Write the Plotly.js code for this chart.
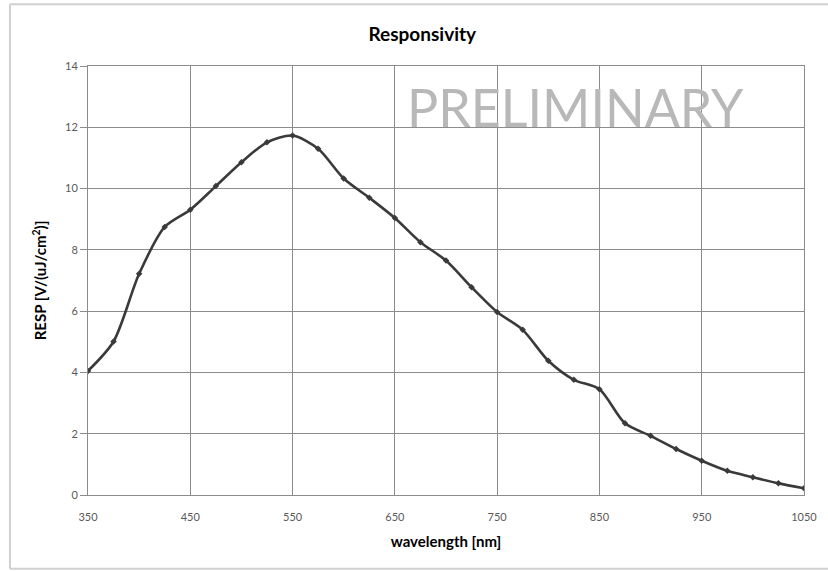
<!DOCTYPE html>
<html>
<head>
<meta charset="utf-8">
<script src="https://cdn.plot.ly/plotly-3.0.1.min.js"></script>
<style>html,body{margin:0;padding:0;background:#fff;overflow:hidden;}#chart{width:828px;height:571px;}</style>
</head>
<body>
<div id="chart"></div>
<script>
const wavelength = [350,375,400,425,450,475,500,525,550,575,600,625,650,675,700,725,750,775,800,825,850,875,900,925,950,975,1000,1025,1050];
const responsivity = [4.05,5.01,7.22,8.75,9.31,10.08,10.86,11.51,11.73,11.30,10.33,9.70,9.04,8.25,7.65,6.78,5.97,5.39,4.38,3.76,3.45,2.34,1.93,1.50,1.12,0.79,0.58,0.38,0.22];
const xTicks = [350,450,550,650,750,850,950,1050];
const yTicks = [0,2,4,6,8,10,12,14];

const font = "Lato, 'Open Sans', 'Liberation Sans', sans-serif";

const trace = {
  x: wavelength, y: responsivity, type: 'scatter', mode: 'lines+markers',
  line: {color: '#3a3a3a', width: 2.6, shape: 'spline', smoothing: 0.8},
  marker: {symbol: 'diamond', size: 5, color: '#3a3a3a'},
  hoverinfo: 'skip', showlegend: false
};

const frame = {color: '#d0d0d0', width: 2};
const layout = {
  width: 828, height: 571,
  margin: {l: 88, r: 24, t: 66, b: 76},
  paper_bgcolor: '#fff', plot_bgcolor: '#fff',
  title: {text: '<b>Responsivity</b>', x: 0.51, xref: 'container', y: 0.94, yanchor: 'middle',
          font: {family: font, size: 19, color: '#000'}},
  xaxis: {
    range: [350, 1050], tickvals: xTicks, ticktext: xTicks.map(String),
    showgrid: true, gridcolor: '#8c8c8c', gridwidth: 1,
    showline: true, linecolor: '#8c8c8c', linewidth: 1, mirror: true,
    ticks: 'outside', ticklen: 12, tickcolor: '#fff',
    tickfont: {family: font, size: 11, color: '#595959'},
    zeroline: false, fixedrange: true,
    title: {text: '<b>wavelength [nm]</b>', standoff: 14, font: {family: font, size: 15, color: '#000'}}
  },
  yaxis: {
    range: [0, 14], tickvals: yTicks, ticktext: yTicks.map(String),
    showgrid: true, gridcolor: '#8c8c8c', gridwidth: 1,
    showline: true, linecolor: '#8c8c8c', linewidth: 1, mirror: true,
    ticks: 'outside', ticklen: 7, tickcolor: '#8c8c8c',
    tickfont: {family: font, size: 11, color: '#595959'},
    zeroline: false, fixedrange: true,
    title: {text: '<b>RESP [V/(uJ/cm<sup>2</sup>)]</b>', standoff: 14, font: {family: font, size: 15, color: '#000'}}
  },
  annotations: [{
    text: 'PRELIMINARY', xref: 'paper', yref: 'paper', x: 0.681, y: 0.905,
    xanchor: 'center', yanchor: 'middle', showarrow: false,
    font: {family: font, size: 52, color: '#b8b8b8'}
  }],
  shapes: [
    {type: 'line', xref: 'paper', yref: 'paper', x0: -0.109, x1: -0.109, y0: -0.172, y1: 1.144, line: frame, layer: 'below'},
    {type: 'line', xref: 'paper', yref: 'paper', x0: -0.109, x1: 1.1, y0: 1.144, y1: 1.144, line: frame, layer: 'below'},
    {type: 'line', xref: 'paper', yref: 'paper', x0: -0.109, x1: 1.1, y0: -0.172, y1: -0.172, line: frame, layer: 'below'}
  ]
};

Plotly.newPlot('chart', [trace], layout, {staticPlot: true, displayModeBar: false});
</script>
</body>
</html>
